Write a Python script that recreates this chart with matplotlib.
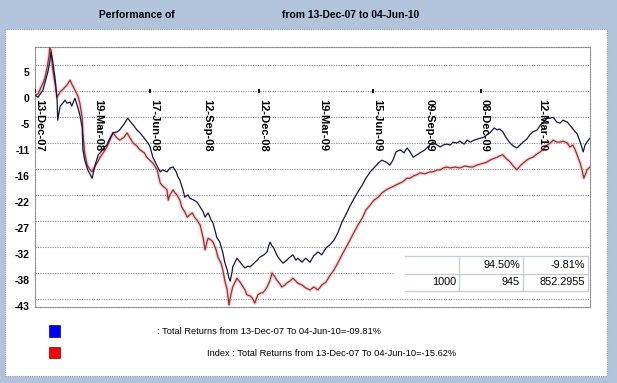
import matplotlib
matplotlib.use('Agg')
import matplotlib.pyplot as plt
import matplotlib.transforms as mtransforms
from matplotlib.patches import Rectangle
from matplotlib.lines import Line2D
import datetime as dt

# ---------------- data ----------------
start_date = dt.date(2007, 12, 13)
end_days = 904  # 04-Jun-10

fund_days = [0, 5, 13, 21, 24, 26, 29, 33, 36, 37, 41, 44, 49, 52, 57, 60, 65, 70, 73, 77,
             78, 81, 86, 90, 93, 98, 103, 106, 112, 117, 122, 127, 134, 138, 145, 151, 156, 160,
             166, 171, 178, 184, 187, 192, 199, 204, 208, 215, 220, 225, 230, 233, 236, 241, 244,
             249, 252, 259, 264, 269, 274, 277, 282, 287, 290, 293, 296, 301, 306, 309, 313, 316,
             318, 321, 322, 326, 329, 334, 339, 342, 347, 350, 357, 362, 366, 373, 378, 381, 383,
             386, 388, 393, 396, 401, 404, 410, 415, 420, 425, 428, 435, 441, 448, 454, 461, 467,
             474, 480, 487, 494, 500, 507, 513, 520, 526, 533, 539, 546, 552, 559, 565, 572, 578,
             583, 588, 595, 601, 606, 611, 616, 622, 627, 635, 643, 648, 655, 660, 665, 671, 676,
             681, 687, 692, 699, 704, 709, 715, 720, 725, 731, 736, 741, 748, 753, 757, 762, 767,
             774, 779, 785, 790, 795, 801, 806, 811, 818, 823, 827, 834, 839, 844, 850, 855, 860,
             867, 871, 875, 880, 883, 888, 891, 893, 896, 899, 904]
fund_vals = [0.0, -0.4, 1.1, 4.8, 6.8, 8.9, 6.8, 3.1, -1.0, -5.1, -2.2, -1.8, -1.0, -1.6, -1.4,
             -2.2, -0.6, -2.6, -4.0, -6.7, -11.2, -13.3, -15.3, -16.3, -17.0, -14.3, -12.2, -11.8,
             -10.8, -10.2, -8.8, -7.7, -7.5, -7.1, -5.9, -4.7, -5.5, -6.1, -7.1, -7.7, -8.8, -9.8,
             -10.4, -12.7, -14.5, -15.7, -15.3, -15.7, -14.9, -14.7, -15.7, -16.8, -17.4, -19.4,
             -20.9, -20.4, -21.1, -21.5, -21.9, -22.9, -23.9, -25.0, -24.1, -25.6, -26.2, -27.6,
             -29.1, -30.1, -32.3, -34.2, -35.8, -37.5, -38.1, -36.2, -35.2, -34.2, -33.4, -34.2,
             -35.0, -35.4, -35.0, -35.2, -34.4, -33.8, -33.2, -32.7, -32.1, -30.7, -30.1, -30.9,
             -31.1, -32.5, -33.2, -34.0, -34.4, -33.8, -33.2, -32.7, -33.8, -33.4, -34.2, -33.4,
             -34.2, -32.9, -32.1, -32.7, -31.3, -30.7, -29.7, -28.0, -26.0, -24.3, -22.7, -21.1,
             -19.8, -18.4, -17.0, -15.7, -14.9, -13.9, -13.3, -13.7, -14.3, -13.3, -11.6, -11.2,
             -11.8, -10.8, -11.6, -12.7, -12.2, -11.8, -11.2, -10.2, -9.6, -10.2, -10.6, -10.2,
             -10.0, -10.2, -9.6, -9.8, -9.4, -10.0, -9.2, -9.6, -9.2, -9.0, -8.8, -8.6, -8.1, -7.7,
             -6.7, -7.1, -6.9, -7.5, -8.6, -9.8, -10.4, -10.8, -10.2, -9.6, -9.0, -8.1, -7.5, -7.1,
             -6.1, -5.7, -4.7, -4.7, -4.5, -5.5, -5.7, -5.1, -5.5, -6.1, -6.7, -7.5, -7.9, -9.6,
             -10.8, -11.6, -10.2, -9.6, -8.8]

index_days = [0, 5, 13, 16, 20, 23, 24, 26, 29, 33, 36, 41, 46, 49, 52, 57, 60, 65, 70, 73, 77,
              78, 81, 85, 90, 93, 96, 101, 106, 112, 117, 122, 127, 134, 138, 145, 150, 155, 160,
              166, 171, 178, 182, 187, 192, 199, 204, 208, 212, 215, 217, 220, 225, 228, 231, 236,
              239, 244, 248, 252, 256, 261, 264, 269, 274, 277, 280, 282, 287, 290, 295, 298, 303,
              306, 309, 313, 316, 319, 322, 326, 329, 334, 337, 342, 345, 350, 353, 358, 363, 368,
              371, 375, 378, 383, 386, 391, 394, 399, 402, 407, 410, 415, 420, 425, 428, 435, 441,
              448, 454, 461, 467, 474, 480, 487, 494, 500, 507, 513, 520, 526, 533, 539, 546, 552,
              559, 565, 572, 578, 585, 591, 598, 606, 611, 617, 622, 627, 635, 643, 648, 655, 660,
              665, 671, 676, 684, 692, 700, 709, 713, 720, 725, 731, 736, 741, 748, 753, 757, 762,
              767, 774, 779, 785, 790, 795, 801, 806, 811, 818, 823, 827, 834, 839, 844, 850, 855,
              860, 867, 871, 876, 880, 883, 888, 891, 894, 898, 899, 904]
index_vals = [0.0, 0.3, 2.5, 3.5, 5.8, 8.3, 9.7, 9.3, 5.2, 2.1, -0.4, 0.7, 1.3, 1.7, 2.1, 3.1,
              2.3, 1.1, -0.2, -1.6, -4.7, -7.7, -11.8, -14.3, -15.3, -15.7, -14.9, -13.9, -12.7,
              -11.6, -10.6, -9.2, -7.7, -8.8, -9.2, -8.6, -7.7, -8.8, -9.8, -10.4, -11.2, -11.8,
              -12.7, -13.3, -13.9, -15.3, -18.0, -18.6, -19.0, -19.4, -21.5, -20.4, -19.4, -20.0,
              -20.4, -21.5, -22.9, -23.9, -25.0, -24.5, -24.1, -25.2, -25.6, -26.6, -29.3, -31.7,
              -30.1, -29.3, -29.7, -30.1, -31.7, -33.2, -34.4, -35.8, -37.9, -39.9, -43.0, -40.9,
              -39.3, -38.3, -37.5, -38.3, -38.9, -39.9, -40.9, -41.1, -41.4, -42.6, -40.9, -40.5,
              -40.5, -39.9, -39.3, -37.9, -36.4, -37.3, -37.9, -38.7, -39.3, -38.9, -38.5, -38.1,
              -37.5, -38.1, -38.5, -38.9, -39.5, -39.9, -39.3, -39.9, -38.9, -38.3, -37.0, -35.8,
              -34.2, -32.7, -31.1, -29.7, -28.0, -26.6, -25.2, -23.5, -22.5, -21.5, -20.9, -20.0,
              -19.4, -19.0, -18.6, -18.2, -17.8, -17.0, -17.0, -16.5, -16.3, -15.9, -16.1, -15.7,
              -15.7, -15.3, -15.3, -14.9, -14.7, -14.9, -14.7, -14.9, -14.5, -14.7, -14.7, -14.3,
              -14.1, -13.9, -13.7, -13.3, -12.9, -12.7, -12.4, -12.2, -12.9, -13.7, -14.5, -15.3,
              -14.5, -13.9, -13.3, -12.9, -12.7, -12.0, -11.6, -11.2, -10.2, -9.8, -9.2, -9.6,
              -9.6, -9.4, -9.8, -10.6, -10.2, -11.2, -12.2, -13.9, -15.3, -17.0, -15.7, -15.3,
              -14.7]

x_tick_labels = ['13-Dec-07', '19-Mar-08', '17-Jun-08', '12-Sep-08', '12-Dec-08',
                 '19-Mar-09', '15-Jun-09', '09-Sep-09', '08-Dec-09', '12-Mar-10']
x_tick_dates = [dt.date(2007, 12, 13), dt.date(2008, 3, 19), dt.date(2008, 6, 17),
                dt.date(2008, 9, 12), dt.date(2008, 12, 12), dt.date(2009, 3, 19),
                dt.date(2009, 6, 15), dt.date(2009, 9, 9), dt.date(2009, 12, 8),
                dt.date(2010, 3, 12)]
y_tick_labels = ['-43', '-38', '-32', '-27', '-22', '-16', '-11', '-5', '0', '5']
y_tick_vals = [-43.2, -37.87, -32.54, -27.21, -21.88, -16.55, -11.22, -5.89, -0.56, 4.77]
grid_vals = [-41.77, -36.44, -31.11, -25.78, -20.45, -15.12, -9.79, -4.46, 0.87, 6.2]

table_rows = [['', '94.50%', '-9.81%'],
              ['1000', '945', '852.2955']]

title_left = 'Performance of'
title_right = 'from 13-Dec-07 to 04-Jun-10'
legend_fund = ': Total Returns from 13-Dec-07 To 04-Jun-10=-09.81%'
legend_index = 'Index : Total Returns from 13-Dec-07 To 04-Jun-10=-15.62%'

# ---------------- figure ----------------
W, H = 617, 383
FONT = 'Liberation Sans'
fig = plt.figure(figsize=(W / 100, H / 100), dpi=100)
fig.patch.set_facecolor('#B2C4DC')


def fx(x):
    return x / W


def fy(y):
    return 1 - y / H


# white panel
fig.add_artist(Rectangle((fx(5), fy(376)), fx(607) - fx(5), fy(29) - fy(376),
                         transform=fig.transFigure, facecolor='white',
                         edgecolor='#9a9a9a', linestyle=(0, (1, 1)), linewidth=0.8,
                         zorder=0))

# titles
fig.text(fx(137), fy(15), title_left, ha='center', va='center', fontsize=7.4,
         fontweight='bold', family=FONT)
fig.text(fx(351), fy(15), title_right, ha='center', va='center', fontsize=7.4,
         fontweight='bold', family=FONT)

ax = fig.add_axes([fx(35), fy(307), fx(590) - fx(35), fy(47) - fy(307)])
ax.set_facecolor('none')
ax.set_zorder(2)

fund_dates = [start_date + dt.timedelta(days=d) for d in fund_days]
index_dates = [start_date + dt.timedelta(days=d) for d in index_days]

for g in grid_vals:
    ax.axhline(g, color='#8a8a8a', linewidth=0.8, linestyle=(0, (1, 1.2)), zorder=1)

ax.plot(index_dates, index_vals, color='#f5b8b8', linewidth=2.6, alpha=0.6, zorder=2,
        solid_joinstyle='round')
ax.plot(index_dates, index_vals, color='#9a2e2e', linewidth=0.9, zorder=3)
ax.plot(fund_dates, fund_vals, color='#14144a', linewidth=0.9, zorder=4)

ax.set_xlim(start_date, start_date + dt.timedelta(days=end_days))
ax.set_ylim(-43.4, 9.9)

for s in ax.spines.values():
    s.set_linestyle((0, (1, 1.2)))
    s.set_color('#8a8a8a')
    s.set_linewidth(0.8)

ax.set_xticks([])
ax.set_yticks(y_tick_vals)
ax.set_yticklabels(y_tick_labels, fontsize=7.5, fontweight='bold', family=FONT)
ax.tick_params(axis='y', length=0, pad=4)

# x labels drawn inside the plot
off = mtransforms.offset_copy(ax.transData, fig=fig, x=3, y=0, units='points')
for d, lab in zip(x_tick_dates, x_tick_labels):
    ax.text(d, -0.8, lab, rotation=270, ha='center', va='top', fontsize=8,
            fontweight='bold', family=FONT, transform=off, zorder=6)
ax.plot(x_tick_dates[::2], [0.8] * len(x_tick_dates[::2]), linestyle='none', marker='|',
        markersize=3.5, markeredgewidth=1.3, color='black', zorder=6)

# table (figure pixel coordinates)
col_edges = [395, 459, 523, 588]
row_edges = [256, 273.5, 291]
tcolor = '#c3ccd9'
fig.add_artist(Rectangle((fx(395), fy(291)), fx(588) - fx(395), fy(256) - fy(291),
                         transform=fig.transFigure, facecolor='white', edgecolor='none',
                         zorder=5))
for yy in row_edges:
    fig.add_artist(Line2D([fx(col_edges[0] + 10), fx(col_edges[-1])], [fy(yy), fy(yy)],
                          transform=fig.transFigure, color=tcolor, linewidth=0.9, zorder=6))
for xx in col_edges[1:]:
    fig.add_artist(Line2D([fx(xx), fx(xx)], [fy(row_edges[0]), fy(row_edges[-1])],
                          transform=fig.transFigure, color=tcolor, linewidth=0.9, zorder=6))
for r, row in enumerate(table_rows):
    yc = (row_edges[r] + row_edges[r + 1]) / 2
    for c, val in enumerate(row):
        fig.text(fx(col_edges[c + 1] - 3), fy(yc), val, ha='right', va='center',
                 fontsize=7.8, family=FONT, zorder=7)

# legend
fig.add_artist(Rectangle((fx(49), fy(337)), fx(60) - fx(49), fy(325) - fy(337),
                         transform=fig.transFigure, facecolor='#0000ff',
                         edgecolor='#1a1a8a', linewidth=0.6, zorder=5))
fig.add_artist(Rectangle((fx(49), fy(358)), fx(60) - fx(49), fy(347) - fy(358),
                         transform=fig.transFigure, facecolor='#ff0000',
                         edgecolor='#a01010', linewidth=0.6, zorder=5))
fig.text(fx(157), fy(331), legend_fund, ha='left', va='center', fontsize=6.7, family=FONT)
fig.text(fx(207), fy(353), legend_index, ha='left', va='center', fontsize=6.7, family=FONT)

fig.savefig('out.png', dpi=100, facecolor=fig.get_facecolor())
